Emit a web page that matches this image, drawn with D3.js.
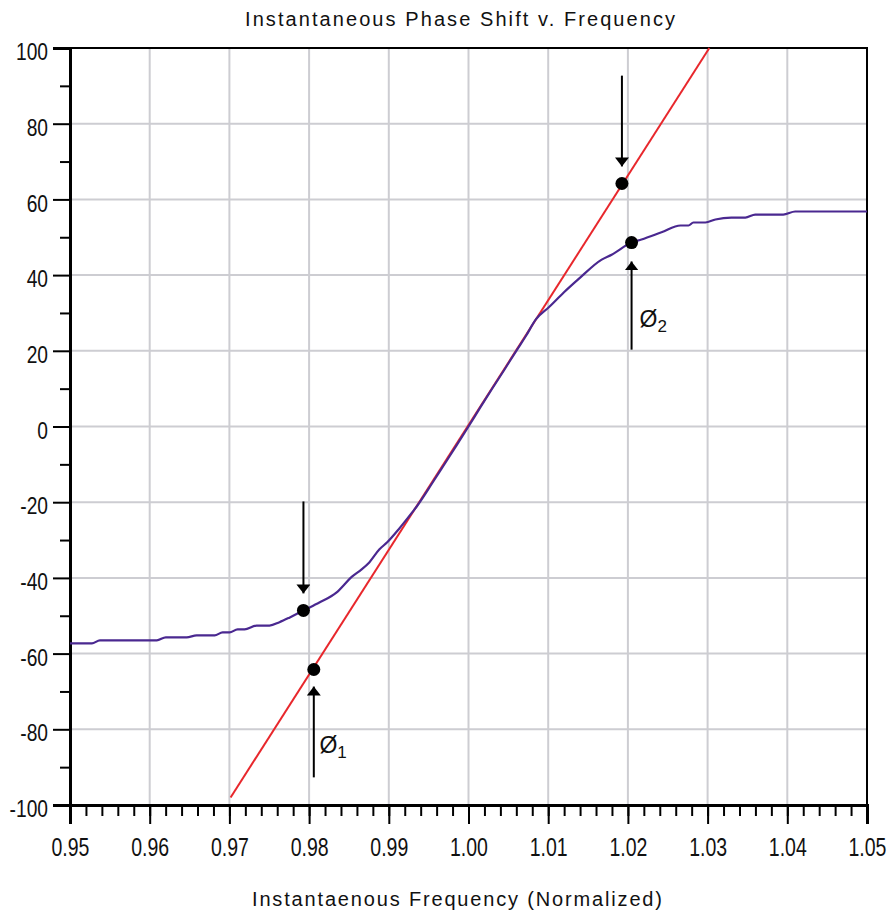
<!DOCTYPE html>
<html>
<head>
<meta charset="utf-8">
<script src="https://cdn.jsdelivr.net/npm/d3@7"></script>
<style>
  body { margin: 0; background: #fff; }
  text { font-family: "Liberation Sans", Arial, sans-serif; fill: #111; }
</style>
</head>
<body>
<div id="chart"></div>
<script>
// 数据 —— 从参考图读取
const xTicks = [0.95, 0.96, 0.97, 0.98, 0.99, 1.00, 1.01, 1.02, 1.03, 1.04, 1.05];
const yTicks = [-100, -80, -60, -40, -20, 0, 20, 40, 60, 80, 100];

// 线性相位（红线）端点
const linearPhase = [[0.97015, -98], [1.03022, 100]];

// 瞬时相移（紫线）
const phaseShift = [
  [0.9500, -57.3], [0.95275, -57.3], [0.95375, -56.5], [0.96089, -56.5], [0.96202, -55.7],
  [0.96464, -55.7], [0.96589, -55.2], [0.96815, -55.2], [0.96915, -54.4], [0.97003, -54.4],
  [0.97103, -53.6], [0.97190, -53.6], [0.97340, -52.6], [0.97503, -52.6], [0.97628, -51.7],
  [0.97753, -50.5], [0.97929, -48.6], [0.98129, -46.5], [0.98342, -43.9], [0.98542, -39.6],
  [0.98655, -37.8], [0.98755, -35.9], [0.98880, -32.5], [0.98980, -30.6], [0.99130, -27.0],
  [0.99293, -22.7], [0.99355, -21.0], [0.9955, -14.8], [0.9970, -9.9], [0.9985, -5.0],
  [1.0000, 0], [1.0015, 5.1], [1.0030, 10.1], [1.0045, 15.0], [1.0060, 20.0],
  [1.0072, 23.9], [1.00845, 28.3], [1.01008, 31.5], [1.01195, 35.4], [1.01383, 39.0],
  [1.01671, 44.1], [1.01796, 45.4], [1.02046, 48.6], [1.02171, 49.4], [1.02422, 51.3],
  [1.02660, 53.1], [1.02760, 53.1], [1.02822, 53.9], [1.02972, 53.9], [1.03098, 54.7],
  [1.03298, 55.2], [1.03473, 55.2], [1.03598, 56.0], [1.03949, 56.0], [1.04099, 56.8],
  [1.0500, 56.8]
];

// 标记点
const markers = [[0.97929, -48.6], [0.98059, -64.2], [1.01925, 64.2], [1.02046, 48.6]];

// 箭头: [x, 起点y, 终点y]
const arrows = [
  [0.97929, -19.8, -44.1],
  [0.98059, -92.7, -68.7],
  [1.01925, 92.7, 68.7],
  [1.02046, 20.3, 43.6]
];

// 标注: [x, y, 下标]
const phiLabels = [[0.98129, -86.2, "1"], [1.02146, 26.2, "2"]];

const W = 889, H = 913;
const margin = { top: 48, right: 22, bottom: 108, left: 70 };
const width = W - margin.left - margin.right;
const height = H - margin.top - margin.bottom;

const root = d3.select("#chart").append("svg")
  .attr("width", W)
  .attr("height", H);

const svg = root.append("g")
  .attr("transform", `translate(${margin.left},${margin.top})`);

const x = d3.scaleLinear().domain([0.95, 1.05]).range([0, width]);
const y = d3.scaleLinear().domain([-100, 100]).range([height, 0]);

// 网格线
svg.append("g")
  .selectAll("line")
  .data(xTicks.slice(1, -1))
  .enter().append("line")
  .attr("x1", d => x(d)).attr("x2", d => x(d))
  .attr("y1", 0).attr("y2", height)
  .attr("stroke", "#cdcdd2")
  .attr("stroke-width", 2);

svg.append("g")
  .selectAll("line")
  .data(yTicks.slice(1, -1))
  .enter().append("line")
  .attr("x1", 0).attr("x2", width)
  .attr("y1", d => y(d)).attr("y2", d => y(d))
  .attr("stroke", "#cdcdd2")
  .attr("stroke-width", 2);

// 边框
svg.append("rect")
  .attr("width", width)
  .attr("height", height)
  .attr("fill", "none")
  .attr("stroke", "#000")
  .attr("stroke-width", 2);

// 次刻度
const xMinor = d3.range(0, 51).map(i => 0.95 + i * 0.002);
const yMinor = d3.range(-90, 100, 20);

svg.append("g")
  .attr("transform", `translate(0,${height})`)
  .call(d3.axisBottom(x).tickValues(xMinor).tickSize(11).tickFormat(""))
  .call(g => g.select(".domain").remove())
  .selectAll("line").attr("stroke-width", 2);

svg.append("g")
  .call(d3.axisLeft(y).tickValues(yMinor).tickSize(10).tickFormat(""))
  .call(g => g.select(".domain").remove())
  .selectAll("line").attr("stroke-width", 2);

// 主刻度（标签用窄体：横向压缩）
const xAxis = svg.append("g")
  .attr("transform", `translate(0,${height})`)
  .call(d3.axisBottom(x).tickValues(xTicks).tickSize(19).tickFormat(d => d.toFixed(2)));
xAxis.select(".domain").attr("stroke-width", 3);
xAxis.selectAll("line").attr("stroke-width", 2);
xAxis.selectAll("text")
  .attr("y", 51)
  .attr("dy", 0)
  .attr("transform", "scale(0.75,1)")
  .style("font-size", "26px")
  .attr("fill", "#111");

const yAxis = svg.append("g")
  .call(d3.axisLeft(y).tickValues(yTicks).tickSize(17).tickFormat(d => String(d)));
yAxis.select(".domain").attr("stroke-width", 3);
yAxis.selectAll("line").attr("stroke-width", 2);
yAxis.selectAll("text")
  .attr("x", -22 / 0.8)
  .attr("y", 4)
  .attr("transform", "scale(0.8,1)")
  .style("font-size", "24px")
  .attr("fill", "#111");

// 线条
const line = d3.line().x(d => x(d[0])).y(d => y(d[1]));

svg.append("path")
  .datum(linearPhase)
  .attr("d", line)
  .attr("fill", "none")
  .attr("stroke", "#e8272c")
  .attr("stroke-width", 2);

svg.append("path")
  .datum(phaseShift)
  .attr("d", line.curve(d3.curveMonotoneX))
  .attr("fill", "none")
  .attr("stroke", "#4a2890")
  .attr("stroke-width", 2.2)
  .attr("stroke-linejoin", "round");

// 箭头
root.append("defs").append("marker")
  .attr("id", "head")
  .attr("viewBox", "0 0 10 10")
  .attr("preserveAspectRatio", "none")
  .attr("refX", 10).attr("refY", 5)
  .attr("markerUnits", "userSpaceOnUse")
  .attr("markerWidth", 9).attr("markerHeight", 14)
  .attr("orient", "auto")
  .append("path")
  .attr("d", "M0,0 L10,5 L0,10 Z")
  .attr("fill", "#000");

svg.selectAll(".arrow")
  .data(arrows)
  .enter().append("line")
  .attr("class", "arrow")
  .attr("x1", d => x(d[0])).attr("x2", d => x(d[0]))
  .attr("y1", d => y(d[1])).attr("y2", d => y(d[2]))
  .attr("stroke", "#000")
  .attr("stroke-width", 2)
  .attr("marker-end", "url(#head)");

// 标记点
svg.selectAll(".dot")
  .data(markers)
  .enter().append("circle")
  .attr("class", "dot")
  .attr("cx", d => x(d[0]))
  .attr("cy", d => y(d[1]))
  .attr("r", 6.5)
  .attr("fill", "#000");

// Ø 标注
const phi = svg.selectAll(".phi")
  .data(phiLabels)
  .enter().append("text")
  .attr("class", "phi")
  .attr("x", d => x(d[0]))
  .attr("y", d => y(d[1]))
  .style("font-size", "23px");
phi.append("tspan").text("Ø");
phi.append("tspan")
  .attr("dy", 5)
  .style("font-size", "17px")
  .text(d => d[2]);

// 标题与轴标题
root.append("text")
  .attr("x", 460).attr("y", 26)
  .attr("text-anchor", "middle")
  .attr("textLength", 430)
  .attr("lengthAdjust", "spacing")
  .style("font-size", "20px")
  .text("Instantaneous Phase Shift v. Frequency");

root.append("text")
  .attr("x", 457).attr("y", 906)
  .attr("text-anchor", "middle")
  .attr("textLength", 410)
  .attr("lengthAdjust", "spacing")
  .style("font-size", "20px")
  .text("Instantaenous Frequency (Normalized)");
</script>
</body>
</html>
